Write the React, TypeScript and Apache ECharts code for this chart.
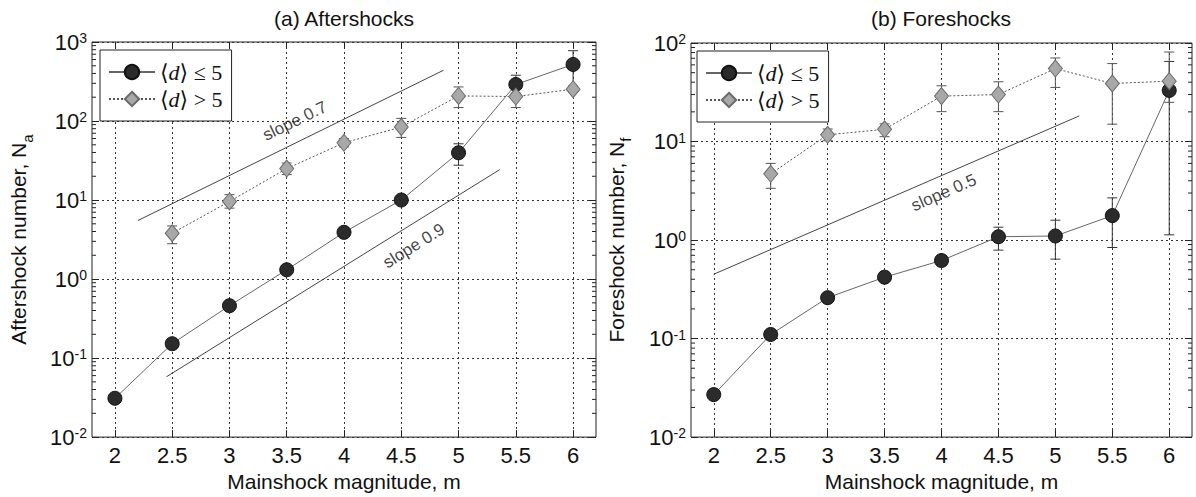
import React, { useEffect, useRef } from 'react';
import * as echarts from 'echarts';

// ---------- data ----------
const magnitudes = [2, 2.5, 3, 3.5, 4, 4.5, 5, 5.5, 6];
const xTickLabels = ['2', '2.5', '3', '3.5', '4', '4.5', '5', '5.5', '6'];
const aftershockExps = [-2, -1, 0, 1, 2, 3];
const foreshockExps = [-2, -1, 0, 1, 2];

// (a) Aftershocks
const aftLe5 = [0.031, 0.152, 0.46, 1.31, 3.9, 10, 39.6, 290, 520];
const aftLe5Lo = [null, null, null, null, null, null, 27.6, 225, 260];
const aftLe5Hi = [null, null, null, null, null, null, 51.5, 380, 776];
const aftGt5 = [null, 3.8, 9.6, 25, 53, 84, 208, 204, 253];
const aftGt5Lo = [null, 2.8, 7.9, 21, 47, 62, 148, 148, 232];
const aftGt5Hi = [null, 4.7, 11.7, 29.4, 60, 108, 270, 270, 278];

// (b) Foreshocks
const foreLe5 = [0.027, 0.11, 0.26, 0.42, 0.62, 1.08, 1.1, 1.77, 33];
const foreLe5Lo = [null, null, null, null, 0.55, 0.79, 0.64, 0.84, 1.13];
const foreLe5Hi = [null, null, null, null, 0.69, 1.35, 1.59, 2.68, 65];
const foreGt5 = [null, 4.7, 11.7, 13.3, 28.9, 30, 55, 38.8, 41];
const foreGt5Lo = [null, 3.35, 10.2, 11.2, 20.1, 20.1, 35.4, 15, 25];
const foreGt5Hi = [null, 6.0, 13.4, 15.1, 36.8, 40.4, 70.5, 61.8, 81];

// reference slopes (end points)
const slope07 = [[2.2, 5.5], [4.87, 440]];
const slope09 = [[2.45, 0.058], [5.36, 24.3]];
const slope05 = [[2.0, 0.45], [5.21, 18.2]];

const slopeLabelsA = [
  { text: 'slope 0.7', m: 3.57, n: 100, angle: 26 },
  { text: 'slope 0.9', m: 4.61, n: 2.64, angle: 32 },
];
const slopeLabelsB = [{ text: 'slope 0.5', m: 4.02, n: 3.03, angle: 23.5 }];

const minorMultipliers = [2, 3, 4, 5, 6, 7, 8, 9];

// ---------- style ----------
const X_MIN = 1.8;
const X_MAX = 6.2;
const FONT = '"Liberation Sans", Arial, sans-serif';
const SERIF = '"Liberation Serif", "DejaVu Serif", serif';
const TEXT = '#111';
const FRAME = '#222';
const DARK = '#2b2b2b';
const GRAYFILL = '#a8a8a8';
const TICK_FS = 22;

const pairs = (vals: (number | null)[]) =>
  magnitudes.map((m, i) => (vals[i] == null ? null : [m, vals[i]])).filter(Boolean);

function errorSeries(xi: number, lo: (number | null)[], hi: (number | null)[], color: string) {
  const data = magnitudes
    .map((m, i) => (lo[i] != null && hi[i] != null ? [m, lo[i], hi[i]] : null))
    .filter(Boolean);
  return {
    type: 'custom',
    xAxisIndex: xi,
    yAxisIndex: xi,
    silent: true,
    z: 2,
    encode: { x: 0, y: [1, 2] },
    renderItem: (params: any, api: any) => {
      const m = api.value(0);
      const a = api.coord([m, api.value(1)]);
      const b = api.coord([m, api.value(2)]);
      const w = 5;
      const st = { stroke: color, lineWidth: 1 };
      return {
        type: 'group',
        children: [
          { type: 'line', shape: { x1: a[0], y1: a[1], x2: b[0], y2: b[1] }, style: st },
          { type: 'line', shape: { x1: a[0] - w, y1: a[1], x2: a[0] + w, y2: a[1] }, style: st },
          { type: 'line', shape: { x1: b[0] - w, y1: b[1], x2: b[0] + w, y2: b[1] }, style: st },
        ],
      };
    },
    data,
  };
}

function minorTickSeries(xi: number, exps: number[]) {
  const data: number[][] = [];
  exps.slice(0, -1).forEach((e) => {
    minorMultipliers.forEach((k) => data.push([X_MIN, k * Math.pow(10, e)]));
  });
  return {
    type: 'custom',
    xAxisIndex: xi,
    yAxisIndex: xi,
    silent: true,
    z: 1,
    renderItem: (params: any, api: any) => {
      const v = api.value(1);
      const l = api.coord([X_MIN, v]);
      const r = api.coord([X_MAX, v]);
      const st = { stroke: FRAME, lineWidth: 1 };
      return {
        type: 'group',
        children: [
          { type: 'line', shape: { x1: l[0], y1: l[1], x2: l[0] + 4, y2: l[1] }, style: st },
          { type: 'line', shape: { x1: r[0] - 4, y1: r[1], x2: r[0], y2: r[1] }, style: st },
        ],
      };
    },
    data,
  };
}

function xAxes(gridIndex: number) {
  const common = {
    type: 'value',
    gridIndex,
    min: X_MIN,
    max: X_MAX,
    axisLine: { show: false },
    axisTick: {
      show: true,
      inside: true,
      length: 7,
      customValues: magnitudes,
      lineStyle: { color: FRAME },
    },
  };
  return [
    {
      ...common,
      position: 'bottom',
      name: 'Mainshock magnitude, m',
      nameLocation: 'middle',
      nameGap: 31,
      nameTextStyle: { fontSize: 21, fontFamily: FONT, color: TEXT },
      axisLabel: {
        show: true,
        customValues: magnitudes,
        formatter: (v: number) => {
          const i = magnitudes.findIndex((m) => Math.abs(m - v) < 1e-6);
          return i >= 0 ? xTickLabels[i] : '';
        },
        fontSize: TICK_FS,
        fontFamily: FONT,
        color: TEXT,
        margin: 7,
      },
      splitLine: { show: true, lineStyle: { type: [2, 3], color: '#333', width: 1 } },
    },
    {
      ...common,
      position: 'top',
      axisLabel: { show: false },
      splitLine: { show: false },
    },
  ];
}

function yAxes(gridIndex: number, exps: number[], title: string, sub: string, gap: number) {
  const common = {
    type: 'log',
    logBase: 10,
    gridIndex,
    min: Math.pow(10, exps[0]),
    max: Math.pow(10, exps[exps.length - 1]),
    axisLine: { show: false },
    axisTick: { show: true, inside: true, length: 7, lineStyle: { color: FRAME } },
  };
  return [
    {
      ...common,
      position: 'left',
      name: `{t|${title}}{s|${sub}}`,
      nameLocation: 'middle',
      nameGap: gap,
      nameTextStyle: {
        fontSize: 21,
        fontFamily: FONT,
        color: TEXT,
        rich: {
          t: { fontSize: 21, fontFamily: FONT, color: TEXT, lineHeight: 22, verticalAlign: 'bottom', padding: [0, 0, 6, 0] },
          s: { fontSize: 15, fontFamily: FONT, color: TEXT, lineHeight: 16, verticalAlign: 'bottom' },
        },
      },
      axisLabel: {
        show: true,
        margin: 5,
        formatter: (v: number) => {
          const e = Math.round(Math.log10(v));
          const ok = exps.indexOf(e) >= 0;
          return ok ? `{b|10}{s|${e}}` : '';
        },
        rich: {
          b: { fontSize: TICK_FS, fontFamily: FONT, color: TEXT, lineHeight: 22, padding: [6, 0, 6, 0] },
          s: { fontSize: 14, fontFamily: FONT, color: TEXT, lineHeight: 14, verticalAlign: 'top' },
        },
      },
      splitLine: { show: true, lineStyle: { type: [2, 3], color: '#333', width: 1 } },
    },
    {
      ...common,
      position: 'right',
      axisLabel: { show: false },
      splitLine: { show: false },
    },
  ];
}

function dataSeries(name: string, xi: number, vals: (number | null)[], dark: boolean) {
  return {
    name,
    type: 'line',
    xAxisIndex: xi * 2,
    yAxisIndex: xi * 2,
    z: 4,
    data: pairs(vals),
    symbol: dark ? 'circle' : 'diamond',
    symbolSize: dark ? 14 : [14, 17],
    showSymbol: true,
    itemStyle: dark
      ? { color: DARK, borderColor: '#111', borderWidth: 1 }
      : { color: GRAYFILL, borderColor: '#6a6a6a', borderWidth: 1 },
    lineStyle: dark
      ? { color: '#666', width: 1, type: 'solid' }
      : { color: '#555', width: 1, type: [2, 2] },
  };
}

function slopeSeries(xi: number, pts: number[][]) {
  return {
    type: 'line',
    xAxisIndex: xi * 2,
    yAxisIndex: xi * 2,
    z: 3,
    silent: true,
    symbol: 'none',
    data: pts,
    lineStyle: { color: '#444', width: 1 },
  };
}

function slopeLabelSeries(xi: number, labels: { text: string; m: number; n: number; angle: number }[]) {
  return labels.map((l) => ({
    type: 'scatter',
    xAxisIndex: xi * 2,
    yAxisIndex: xi * 2,
    silent: true,
    symbolSize: 0,
    z: 5,
    data: [[l.m, l.n]],
    label: {
      show: true,
      position: 'inside',
      formatter: l.text,
      rotate: l.angle,
      fontSize: 17,
      fontFamily: FONT,
      color: TEXT,
    },
  }));
}

const legendRich = {
  p: { fontSize: 22, fontFamily: SERIF, color: TEXT },
  i: { fontSize: 22, fontFamily: SERIF, fontStyle: 'italic', color: TEXT },
};
const legendFmt = (name: string) =>
  name.endsWith('le') ? '{p|⟨}{i|d}{p|⟩ ≤ 5}' : '{p|⟨}{i|d}{p|⟩ > 5}';

function legend(names: string[], left: number, top: number) {
  return {
    data: names,
    orient: 'vertical',
    left,
    top,
    backgroundColor: '#fff',
    borderColor: FRAME,
    borderWidth: 1,
    padding: [11, 9, 11, 8],
    itemGap: 5,
    itemWidth: 46,
    itemHeight: 18,
    formatter: legendFmt,
    textStyle: { fontSize: 22, fontFamily: SERIF, color: TEXT, rich: legendRich },
    selectedMode: false,
    z: 10,
  };
}

export default function App() {
  const ref = useRef<HTMLDivElement>(null);
  useEffect(() => {
    if (!ref.current) return;
    const chart = echarts.init(ref.current, null, { renderer: 'svg' });
    const xa = [...xAxes(0), ...xAxes(1)];
    const ya = [
      ...yAxes(0, aftershockExps, 'Aftershock number, N', 'a', 57),
      ...yAxes(1, foreshockExps, 'Foreshock number, N', 'f', 58),
    ];
    chart.setOption({
      animation: false,
      backgroundColor: '#fff',
      grid: [
        { left: 92, top: 42, width: 504, height: 397, show: true, borderColor: FRAME, borderWidth: 1, backgroundColor: 'transparent' },
        { left: 691, top: 43, width: 501, height: 396, show: true, borderColor: FRAME, borderWidth: 1, backgroundColor: 'transparent' },
      ],
      xAxis: xa,
      yAxis: ya,
      legend: [legend(['a_le', 'a_gt'], 100, 50), legend(['b_le', 'b_gt'], 697, 51)],
      graphic: [
        { type: 'text', x: 344, y: 18, style: { text: '(a) Aftershocks', fontSize: 21, fontFamily: FONT, fill: TEXT, align: 'center', verticalAlign: 'middle' } },
        { type: 'text', x: 941, y: 18, style: { text: '(b) Foreshocks', fontSize: 21, fontFamily: FONT, fill: TEXT, align: 'center', verticalAlign: 'middle' } },
      ],
      series: [
        minorTickSeries(0, aftershockExps),
        minorTickSeries(2, foreshockExps),
        slopeSeries(0, slope07),
        slopeSeries(0, slope09),
        slopeSeries(1, slope05),
        ...slopeLabelSeries(0, slopeLabelsA),
        ...slopeLabelSeries(1, slopeLabelsB),
        errorSeries(0, aftLe5Lo, aftLe5Hi, '#333'),
        errorSeries(0, aftGt5Lo, aftGt5Hi, '#555'),
        errorSeries(2, foreLe5Lo, foreLe5Hi, '#333'),
        errorSeries(2, foreGt5Lo, foreGt5Hi, '#555'),
        dataSeries('a_le', 0, aftLe5, true),
        dataSeries('a_gt', 0, aftGt5, false),
        dataSeries('b_le', 1, foreLe5, true),
        dataSeries('b_gt', 1, foreGt5, false),
      ],
    });
    return () => chart.dispose();
  }, []);
  return (
    <div
      ref={ref}
      style={{ position: 'fixed', left: 0, top: 0, width: 1196, height: 497, background: '#fff' }}
    />
  );
}
